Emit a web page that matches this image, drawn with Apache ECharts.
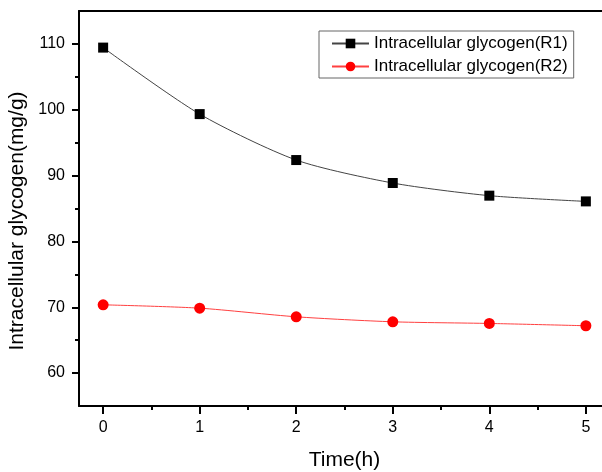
<!DOCTYPE html>
<html>
<head>
<meta charset="utf-8">
<script src="https://cdn.jsdelivr.net/npm/echarts@6/dist/echarts.min.js"></script>
<style>html,body{margin:0;padding:0;background:#fff}#c{width:602px;height:472px}</style>
</head>
<body>
<div id="c"></div>
<script>
const timeValues = [0, 1, 2, 3, 4, 5];
const r1Values = [109.44, 99.34, 92.36, 88.87, 86.95, 86.08];
const r2Values = [70.37, 69.86, 68.55, 67.79, 67.54, 67.19];
const seriesNames = ['Intracellular glycogen(R1)', 'Intracellular glycogen(R2)'];
const xTicks = [0, 1, 2, 3, 4, 5];
const xMinorTicks = [0.5, 1.5, 2.5, 3.5, 4.5];
const yTicks = [60, 70, 80, 90, 100, 110];
const yMinorTicks = [65, 75, 85, 95, 105];
const xTitle = 'Time(h)';
const yTitle = 'Intracellular glycogen(mg/g)';

const font = 'Liberation Sans, Arial, sans-serif';
const chart = echarts.init(document.getElementById('c'), null, {renderer: 'canvas'});
const axisLineStyle = {color: '#000', width: 2};
chart.setOption({
  animation: false,
  backgroundColor: '#fff',
  grid: {left: 79, top: 11, width: 531, height: 395, show: false,
         containLabel: false, outerBoundsMode: 'none'},
  legend: {
    orient: 'vertical', left: 319, top: 31,
    borderColor: '#666', borderWidth: 1, padding: [4, 6, 3, 12],
    itemWidth: 37, itemHeight: 12, itemGap: 6,
    textStyle: {fontFamily: font, fontSize: 17, color: '#000'},
    data: seriesNames
  },
  xAxis: [{
    type: 'value', min: -0.25, max: 5.25,
    name: xTitle, nameLocation: 'middle', nameGap: 44,
    nameTextStyle: {fontFamily: font, fontSize: 21, color: '#000'},
    axisLine: {show: true, onZero: false, lineStyle: axisLineStyle},
    axisTick: {show: true, customValues: xTicks, length: 8, inside: false, lineStyle: axisLineStyle},
    axisLabel: {customValues: xTicks, margin: 14, fontFamily: font, fontSize: 16, color: '#000'},
    splitLine: {show: false}
  }, {
    type: 'value', min: -0.25, max: 5.25, position: 'bottom', gridIndex: 0,
    axisLine: {show: false, onZero: false},
    axisTick: {show: true, customValues: xMinorTicks, length: 4, lineStyle: axisLineStyle},
    axisLabel: {show: false},
    splitLine: {show: false}
  }, {
    type: 'value', min: -0.25, max: 5.25, position: 'top', gridIndex: 0,
    axisLine: {show: true, onZero: false, lineStyle: axisLineStyle},
    axisTick: {show: false},
    axisLabel: {show: false},
    splitLine: {show: false}
  }],
  yAxis: [{
    type: 'value', min: 55, max: 115,
    name: yTitle, nameLocation: 'middle', nameGap: 50,
    nameTextStyle: {fontFamily: font, fontSize: 21, color: '#000', padding: [0, 25, 0, 0]},
    axisLine: {show: true, onZero: false, lineStyle: axisLineStyle},
    axisTick: {show: true, customValues: yTicks, length: 7, lineStyle: axisLineStyle},
    axisLabel: {customValues: yTicks, margin: 14, fontFamily: font, fontSize: 16, color: '#000'},
    splitLine: {show: false}
  }, {
    type: 'value', min: 55, max: 115, position: 'left',
    axisLine: {show: false, onZero: false},
    axisTick: {show: true, customValues: yMinorTicks, length: 4, lineStyle: axisLineStyle},
    axisLabel: {show: false},
    splitLine: {show: false}
  }],
  series: [{
    name: seriesNames[0], type: 'line', smooth: 0.25,
    data: timeValues.map((t, i) => [t, r1Values[i]]),
    symbol: 'rect', symbolSize: 10,
    itemStyle: {color: '#000'},
    lineStyle: {color: '#444', width: 1}
  }, {
    name: seriesNames[1], type: 'line', smooth: 0.25,
    data: timeValues.map((t, i) => [t, r2Values[i]]),
    symbol: 'circle', symbolSize: 11,
    itemStyle: {color: '#ff0000'},
    lineStyle: {color: '#ff4040', width: 1}
  }]
});
</script>
</body>
</html>
